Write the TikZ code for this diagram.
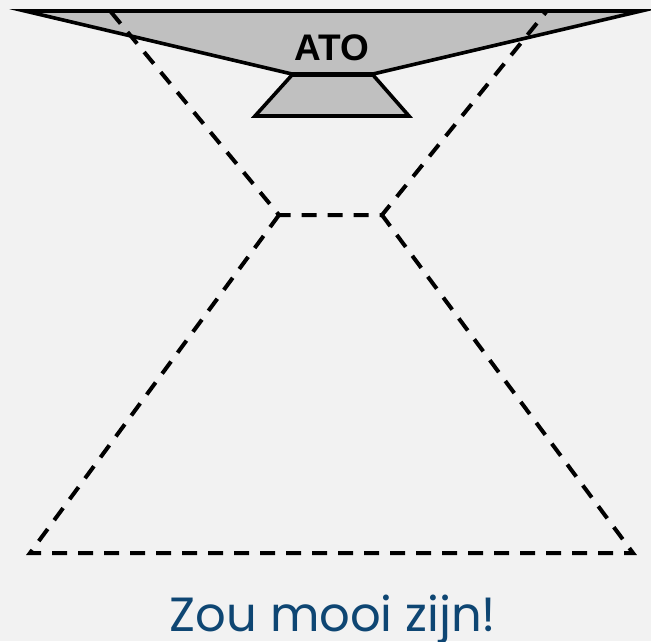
\documentclass[tikz,border=0pt]{standalone}
\usepackage{fontspec}
\setmainfont{Liberation Sans}
\newfontfamily\captionfont{Poppins}
\usetikzlibrary{positioning}
\definecolor{bgcol}{HTML}{F2F2F2}
\definecolor{atogray}{HTML}{C0C0C0}
\definecolor{textblue}{HTML}{0E4673}

\begin{document}
\begin{tikzpicture}[x=1pt,y=-1pt,
  edge/.style={line width=3.6pt},
  sight/.style={line width=4pt, dash pattern=on 15pt off 11pt}]
  \fill[bgcol](0,0)rectangle(651,641);
  \useasboundingbox(0,0)rectangle(651,641);
  % ATO
  \draw[edge,fill=atogray](25,11)--(641,11)--(373,74)--(292,74)--cycle;
  \draw[edge,fill=atogray](292,75)--(373,75)--(409,116)--(255,116)--cycle;
  \node[font=\bfseries\fontsize{37}{37}\selectfont] (ato) at (332,48) {ATO};
  % zichtlijnen
  \coordinate (tl) at (111,12);
  \coordinate (tr) at (546,12);
  \coordinate (ml) at (279,215);
  \coordinate (mr) at (382,215);
  \coordinate (bl) at (30,553);
  \coordinate (br) at (633,553);
  \draw[sight](tl)--(ml)--(mr)--(tr);
  \draw[sight](ml)--(bl)--(br)--(mr);
  \node[anchor=base, text=textblue, font=\captionfont\fontsize{48}{48}\selectfont] (zou) at (333,631) {Zou mooi zijn!};
\end{tikzpicture}
\end{document}
